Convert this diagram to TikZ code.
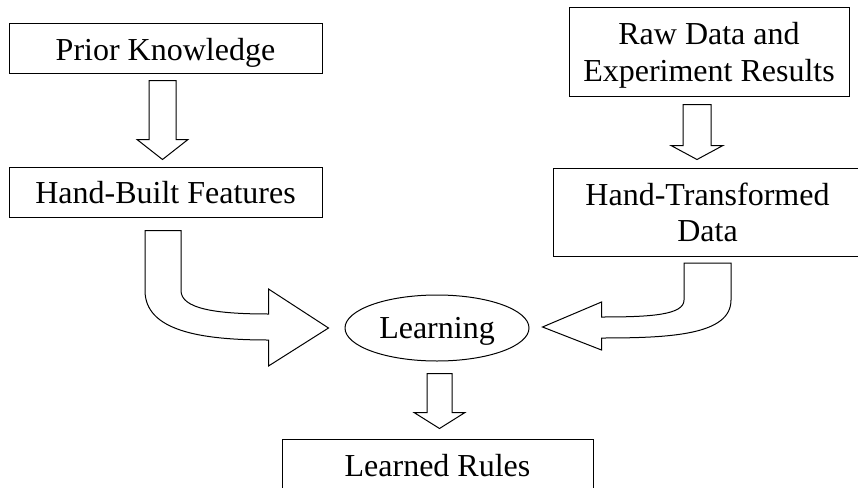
\documentclass[tikz,border=0pt]{standalone}
\usepackage{fontspec}
\setmainfont{Liberation Serif}
\usetikzlibrary{shapes.geometric,calc}

% Straight hollow block arrow pointing down.
% #1 top centre of the shaft, #2 tip, #3 shaft half width,
% #4 head half width, #5 head length (all in pt)
\newcommand\blockdown[5]{%
  \draw[blockarrow] let \p1=(#1), \p2=(#2) in
    (\x1-#3pt,\y1) -- (\x1-#3pt,\y2+#5pt) -- (\x1-#4pt,\y2+#5pt) -- (\x2,\y2)
    -- (\x1+#4pt,\y2+#5pt) -- (\x1+#3pt,\y2+#5pt) -- (\x1+#3pt,\y1) -- cycle;}

\begin{document}
\begin{tikzpicture}[x=1pt,y=-1pt,
  every node/.style={font=\fontsize{32}{36}\selectfont, line width=1pt},
  box/.style={draw, rectangle, inner sep=0pt, text height=23pt, text depth=0pt},
  twoline/.style={draw, rectangle, inner sep=0pt, align=center,
                  text height=58pt, text depth=0pt},
  oval/.style={draw, ellipse, inner sep=0pt, text height=21pt, text depth=0pt},
  blockarrow/.style={draw, line width=1pt, line join=miter}]
\useasboundingbox (0,0) rectangle (858,487);
\clip (0,0) rectangle (858,487);

% boxes
\node[box, minimum width=313pt, minimum height=49pt] (pk) at (165.5,48.5) {Prior Knowledge};
\node[box, minimum width=313pt, minimum height=50pt] (hb) at (165.5,192) {Hand-Built Features};
\node[twoline, minimum width=280pt, minimum height=88pt] (raw) at (709,52) {Raw Data and\\Experiment Results};
\node[twoline, minimum width=309pt, minimum height=88pt] (ht) at (707.5,212.5) {Hand-Transformed\\Data};
\node[oval, minimum width=184pt, minimum height=66pt] (learn) at (437,328) {Learning};
\node[box, minimum width=311pt, minimum height=51pt] (rules) at (437.5,464.5) {Learned Rules};

% straight block arrows
\coordinate (a1s) at ($(pk.south)+(-3,7)$);
\coordinate (a1e) at ($(hb.north)+(-3,-7)$);
\blockdown{a1s}{a1e}{13.5}{25.5}{20}

\coordinate (a2s) at ($(raw.south)+(-12,8)$);
\coordinate (a2e) at ($(ht.north)+(-10.5,-8.5)$);
\blockdown{a2s}{a2e}{14}{26}{14}

\coordinate (a3s) at ($(learn.south)+(2.5,12)$);
\coordinate (a3e) at ($(rules.north)+(2,-10)$);
\blockdown{a3s}{a3e}{12.5}{25.5}{16}

% bent block arrow: features -> learning
\coordinate (c1s) at ($(hb.south)+(-2.5,13)$);
\coordinate (c1e) at ($(learn.west)+(-16,0)$);
\draw[blockarrow]
  ($(c1s)+(-18,0)$) -- ($(c1s)+(-18,60)$)
  .. controls ($(c1s)+(-18,100)$) and ($(c1e)+(-129,12)$) .. ($(c1e)+(-60,12)$)
  -- ($(c1e)+(-60,38)$) -- (c1e) -- ($(c1e)+(-60,-39)$) -- ($(c1e)+(-60,-14)$)
  .. controls ($(c1e)+(-114,-14)$) and ($(c1s)+(18,78)$) .. ($(c1s)+(18,60)$)
  -- ($(c1s)+(18,0)$) -- cycle;

% bent block arrow: transformed data -> learning
\coordinate (c2s) at ($(ht.south)+(0,6)$);
\coordinate (c2e) at ($(learn.east)+(13,-1)$);
\draw[blockarrow]
  ($(c2s)+(-23.5,0)$) -- ($(c2s)+(-23.5,37)$)
  .. controls ($(c2s)+(-23.5,52)$) and ($(c2e)+(108,-10)$) .. ($(c2e)+(59,-10)$)
  -- ($(c2e)+(59,-25)$) -- (c2e) -- ($(c2e)+(59,23)$) -- ($(c2e)+(59,11)$)
  .. controls ($(c2e)+(128,11)$) and ($(c2s)+(23.5,72)$) .. ($(c2s)+(23.5,37)$)
  -- ($(c2s)+(23.5,0)$) -- cycle;
\end{tikzpicture}
\end{document}
